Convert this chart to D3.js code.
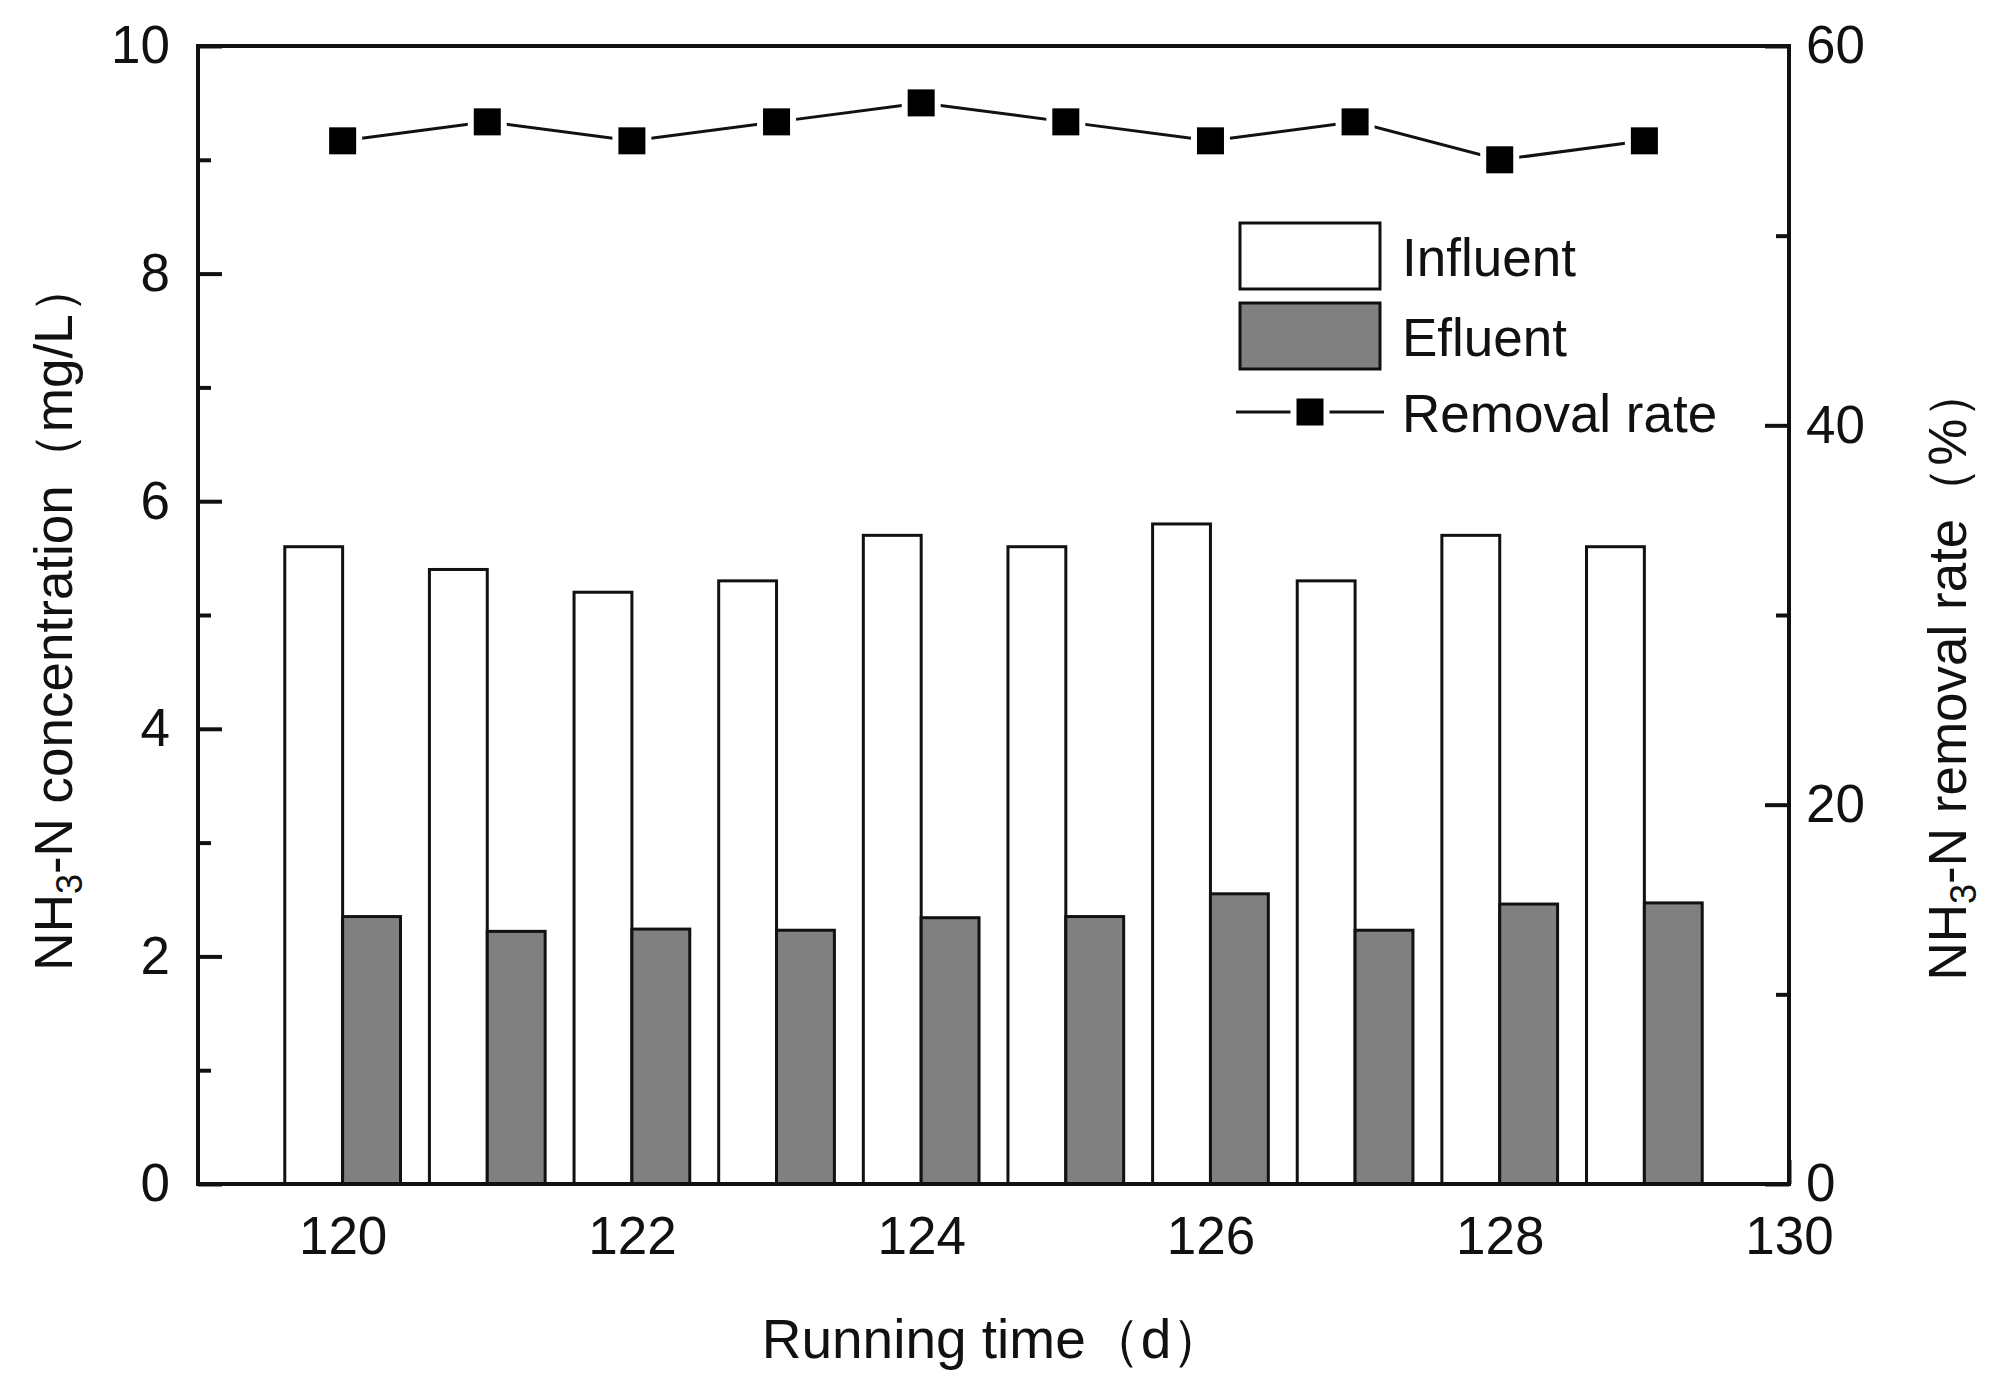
<!DOCTYPE html>
<html lang="en">
<head>
    <meta charset="UTF-8">
    <title>NH3-N concentration and removal rate</title>
    <style>
        body {
            margin: 0;
            background-color: #ffffff;
            font-family: "Liberation Sans", Arial, sans-serif;
        }
        .axis text {
            font-family: "Liberation Sans", Arial, sans-serif;
            font-size: 53px;
            fill: #111;
        }
        .axis line {
            stroke: #111;
            stroke-width: 4px;
        }
        .axis path {
            display: none;
        }
        .title {
            font-family: "Liberation Sans", Arial, sans-serif;
            font-size: 53px;
            fill: #111;
        }
    </style>
</head>
<body>

<div id="chart"></div>

<script src="https://d3js.org/d3.v7.min.js"></script>
<script>
    // Values
    const days = [120, 121, 122, 123, 124, 125, 126, 127, 128, 129];
    const influent = [5.6, 5.4, 5.2, 5.3, 5.7, 5.6, 5.8, 5.3, 5.7, 5.6];
    const effluent = [2.35, 2.22, 2.24, 2.23, 2.34, 2.35, 2.55, 2.23, 2.46, 2.47];
    const removalRate = [55, 56, 55, 56, 57, 56, 55, 56, 54, 55];

    const xTicks = [120, 122, 124, 126, 128, 130];
    const xMinor = [121, 123, 125, 127, 129];
    const yLeftTicks = [0, 2, 4, 6, 8, 10];
    const yLeftMinor = [1, 3, 5, 7, 9];
    const yRightTicks = [0, 20, 40, 60];
    const yRightMinor = [10, 30, 50];

    const legendItems = ["Influent", "Efluent", "Removal rate"];

    const W = 2008, H = 1395;
    const plot = { left: 198, right: 1789, top: 46, bottom: 1184 };
    const barWidth = 0.4; // in days

    const svg = d3.select("#chart")
        .append("svg")
        .attr("width", W)
        .attr("height", H)
        .style("display", "block");

    svg.append("rect")
        .attr("width", W)
        .attr("height", H)
        .attr("fill", "#fff");

    // scales
    const x = d3.scaleLinear()
        .domain([119, 130])
        .range([plot.left, plot.right]);

    const yL = d3.scaleLinear()
        .domain([0, 10])
        .range([plot.bottom, plot.top]);

    const yR = d3.scaleLinear()
        .domain([0, 60])
        .range([plot.bottom, plot.top]);

    // axes (ticks point inward)
    svg.append("g")
        .attr("class", "axis")
        .attr("transform", `translate(0,${plot.bottom})`)
        .call(d3.axisBottom(x).tickValues(xTicks).tickSize(-24).tickPadding(32).tickSizeOuter(0))
        .selectAll("text").attr("dy", "0.71em");

    svg.append("g")
        .attr("class", "axis")
        .attr("transform", `translate(0,${plot.bottom})`)
        .call(d3.axisBottom(x).tickValues(xMinor).tickSize(-13).tickFormat("").tickSizeOuter(0));

    svg.append("g")
        .attr("class", "axis")
        .attr("transform", `translate(${plot.left},0)`)
        .call(d3.axisLeft(yL).tickValues(yLeftTicks).tickSize(-24).tickPadding(28).tickSizeOuter(0));

    svg.append("g")
        .attr("class", "axis")
        .attr("transform", `translate(${plot.left},0)`)
        .call(d3.axisLeft(yL).tickValues(yLeftMinor).tickSize(-13).tickFormat("").tickSizeOuter(0));

    svg.append("g")
        .attr("class", "axis")
        .attr("transform", `translate(${plot.right},0)`)
        .call(d3.axisRight(yR).tickValues(yRightTicks).tickSize(-24).tickPadding(17).tickSizeOuter(0));

    svg.append("g")
        .attr("class", "axis")
        .attr("transform", `translate(${plot.right},0)`)
        .call(d3.axisRight(yR).tickValues(yRightMinor).tickSize(-13).tickFormat("").tickSizeOuter(0));

    // bars
    svg.selectAll(".bar-in")
        .data(days)
        .enter().append("rect")
        .attr("class", "bar-in")
        .attr("x", d => x(d - barWidth))
        .attr("width", d => x(d) - x(d - barWidth))
        .attr("y", (d, i) => yL(influent[i]))
        .attr("height", (d, i) => yL(0) - yL(influent[i]))
        .attr("fill", "#fff")
        .attr("stroke", "#111")
        .attr("stroke-width", 3);

    svg.selectAll(".bar-ef")
        .data(days)
        .enter().append("rect")
        .attr("class", "bar-ef")
        .attr("x", d => x(d))
        .attr("width", d => x(d + barWidth) - x(d))
        .attr("y", (d, i) => yL(effluent[i]))
        .attr("height", (d, i) => yL(0) - yL(effluent[i]))
        .attr("fill", "#808080")
        .attr("stroke", "#111")
        .attr("stroke-width", 3);

    // removal rate line + square markers
    const line = d3.line()
        .x(d => x(d))
        .y((d, i) => yR(removalRate[i]));

    svg.append("path")
        .datum(days)
        .attr("d", line)
        .attr("fill", "none")
        .attr("stroke", "#111")
        .attr("stroke-width", 3);

    const ms = 27;
    svg.selectAll(".marker")
        .data(days)
        .enter().append("rect")
        .attr("class", "marker")
        .attr("x", d => x(d) - ms / 2)
        .attr("y", (d, i) => yR(removalRate[i]) - ms / 2)
        .attr("width", ms)
        .attr("height", ms)
        .attr("fill", "#000")
        .attr("stroke", "#fff")
        .attr("stroke-width", 12)
        .attr("paint-order", "stroke");

    // frame
    svg.append("rect")
        .attr("x", plot.left)
        .attr("y", plot.top)
        .attr("width", plot.right - plot.left)
        .attr("height", plot.bottom - plot.top)
        .attr("fill", "none")
        .attr("stroke", "#111")
        .attr("stroke-width", 4);

    // legend
    const legend = svg.append("g").attr("transform", "translate(1240,222)");
    const rowY = [34, 114, 190];

    legend.append("rect")
        .attr("x", 0).attr("y", rowY[0] - 33)
        .attr("width", 140).attr("height", 66)
        .attr("fill", "#fff").attr("stroke", "#111").attr("stroke-width", 3);

    legend.append("rect")
        .attr("x", 0).attr("y", rowY[1] - 33)
        .attr("width", 140).attr("height", 66)
        .attr("fill", "#808080").attr("stroke", "#111").attr("stroke-width", 3);

    legend.append("line")
        .attr("x1", -4).attr("x2", 144)
        .attr("y1", rowY[2]).attr("y2", rowY[2])
        .attr("stroke", "#111").attr("stroke-width", 3);

    legend.append("rect")
        .attr("x", 70 - ms / 2).attr("y", rowY[2] - ms / 2)
        .attr("width", ms).attr("height", ms)
        .attr("fill", "#000").attr("stroke", "#fff").attr("stroke-width", 12)
        .attr("paint-order", "stroke");

    legend.selectAll(".legend-text")
        .data(legendItems)
        .enter().append("text")
        .attr("class", "title")
        .attr("x", 162)
        .attr("y", (d, i) => rowY[i] + 20)
        .text(d => d);

    // axis titles
    svg.append("text")
        .attr("class", "title")
        .attr("x", 994)
        .attr("y", 1358)
        .attr("text-anchor", "middle")
        .style("font-size", "55px")
        .text("Running time（d）");

    const leftTitle = svg.append("text")
        .attr("class", "title")
        .attr("transform", "translate(72,616) rotate(-90)")
        .attr("text-anchor", "middle");
    leftTitle.append("tspan").text("NH");
    leftTitle.append("tspan").attr("font-size", "36px").attr("dy", "10").text("3");
    leftTitle.append("tspan").attr("dy", "-10").text("-N concentration（mg/L）");

    const rightTitle = svg.append("text")
        .attr("class", "title")
        .attr("transform", "translate(1966,673) rotate(-90)")
        .attr("text-anchor", "middle");
    rightTitle.append("tspan").text("NH");
    rightTitle.append("tspan").attr("font-size", "36px").attr("dy", "10").text("3");
    rightTitle.append("tspan").attr("dy", "-10").text("-N removal rate（%）");
</script>
</body>
</html>
